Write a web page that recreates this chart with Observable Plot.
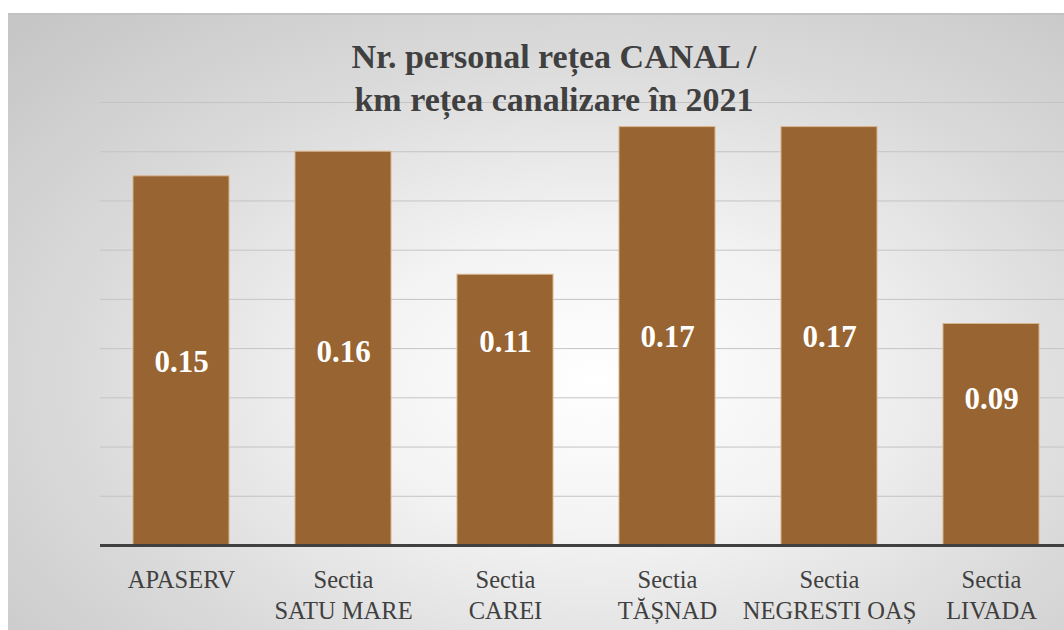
<!DOCTYPE html>
<html>
<head>
<meta charset="utf-8">
<script src="https://cdn.jsdelivr.net/npm/d3@7"></script>
<script src="https://cdn.jsdelivr.net/npm/@observablehq/plot@0.6"></script>
<style>
  html, body { margin: 0; padding: 0; background: #ffffff; width: 1064px; height: 630px; overflow: hidden; }
  #bg { position: absolute; left: 8px; top: 13px; width: 1070px; height: 630px;
        border-top: 2px solid #c2c2c2;
        background: radial-gradient(ellipse 75% 80% at 55% 58%, #ffffff 0%, #f3f3f3 30%, #dadada 65%, #c6c6c6 100%); }
  #chart { position: absolute; left: 0; top: 0; }
  #title { position: absolute; left: 0; width: 1108px; top: 35px; text-align: center;
           font-family: "Liberation Serif", "DejaVu Serif", serif; font-weight: bold; font-size: 34px;
           line-height: 43px; color: #404040; }
</style>
</head>
<body>
<div id="bg"></div>
<div id="chart"></div>
<div id="title">Nr. personal rețea CANAL /<br>km rețea canalizare în 2021</div>
<script>
const categories = ["APASERV", "Sectia\nSATU MARE", "Sectia\nCAREI", "Sectia\nTĂȘNAD", "Sectia\nNEGRESTI OAȘ", "Sectia\nLIVADA"];
const values = [0.15, 0.16, 0.11, 0.17, 0.17, 0.09];
// where each value label sits, in data units (as placed in the original)
const labelY = [0.075, 0.079, 0.083, 0.085, 0.085, 0.060];
const yTicks = [0.02, 0.04, 0.06, 0.08, 0.10, 0.12, 0.14, 0.16, 0.18];

const data = categories.map((c, i) => ({cat: c, value: values[i], ly: labelY[i]}));
const serif = "'Liberation Serif', 'DejaVu Serif', serif";

const plot = Plot.plot({
  width: 1064,
  height: 630,
  marginLeft: 100,
  marginRight: 0,
  marginTop: 102,
  marginBottom: 85,
  style: {background: "transparent", overflow: "hidden"},
  x: {domain: categories, range: [98, 1074], paddingInner: 0.406, paddingOuter: 0.203, axis: null},
  y: {domain: [0, 0.18], axis: null},
  marks: [
    Plot.ruleY(yTicks, {stroke: "#c4c4c4", strokeWidth: 1}),
    Plot.barY(data, {x: "cat", y: "value", fill: "#976432", stroke: "#d8b48c", strokeWidth: 1}),
    Plot.ruleY([0], {stroke: "#404040", strokeWidth: 3}),
    Plot.text(data, {x: "cat", y: "ly", text: d => d.value.toFixed(2), fill: "#ffffff",
      fontSize: 31, fontWeight: "bold", fontFamily: serif, lineAnchor: "middle", dy: 1}),
    Plot.text(data, {x: "cat", text: "cat", frameAnchor: "bottom", lineAnchor: "top", dy: 20,
      fontSize: 24.5, lineHeight: 1.27, fill: "#404040", fontFamily: serif})
  ]
});
document.getElementById("chart").appendChild(plot);
</script>
</body>
</html>
